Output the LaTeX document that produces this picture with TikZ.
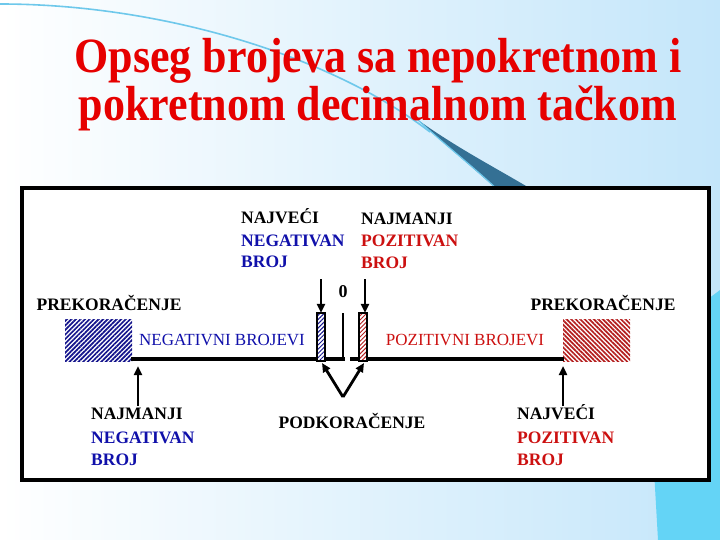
\documentclass[tikz,border=0pt]{standalone}
\usepackage{fontspec}
\setmainfont{Liberation Serif}
\usetikzlibrary{arrows.meta,patterns.meta}
\definecolor{nblue}{RGB}{16,16,170}
\definecolor{pred}{RGB}{204,16,16}
\definecolor{tred}{RGB}{230,0,0}
\definecolor{bgblue}{RGB}{196,230,250}
\definecolor{cyanband}{RGB}{100,212,246}
\definecolor{swooshc}{RGB}{110,200,235}
\definecolor{wedgec}{RGB}{52,112,148}
\definecolor{hblue}{RGB}{20,20,140}
\definecolor{hred}{RGB}{180,30,30}
\begin{document}
\begin{tikzpicture}[x=1pt,y=-1pt,
  lab/.style={inner sep=0pt, anchor=base west, font=\fontsize{17.5}{20}\selectfont\bfseries},
  labc/.style={inner sep=0pt, anchor=base, font=\fontsize{17.5}{20}\selectfont\bfseries},
  labr/.style={inner sep=0pt, anchor=base, font=\fontsize{17}{20}\selectfont},
  ttl/.style={inner sep=0pt, anchor=base, text=tred, font=\fontsize{44}{50}\selectfont\bfseries},
  arr/.style={line width=2.6pt, -{Triangle[length=9pt,width=8pt]}},
  hatchblue/.style={pattern={Lines[angle=45,distance=3.2pt,line width=1.7pt]}, pattern color=hblue},
  hatchred/.style={pattern={Lines[angle=-45,distance=3.2pt,line width=1.7pt]}, pattern color=hred},
  barblue/.style={draw=black, line width=1.6pt, pattern={Lines[angle=45,distance=3pt,line width=1pt]}, pattern color=hblue},
  barred/.style={draw=black, line width=1.6pt, pattern={Lines[angle=45,distance=3pt,line width=1pt]}, pattern color=hred},
  frame/.style={draw=black, line width=4pt, fill=white},
  axis/.style={line width=3.5pt}
]
\useasboundingbox (0,0) rectangle (720,540);
% background
\shade[left color=white, right color=bgblue] (0,0) rectangle (720,540);
\fill[cyanband] (700,305) -- (720,290) -- (720,540) -- (658,540) -- (654,470) -- cycle;
\draw[swooshc, line width=1.6pt] (0,4) .. controls (160,4) and (330,55) .. (430,132);
\fill[wedgec] (418,120) .. controls (460,150) and (500,170) .. (536,192) -- (500,192) .. controls (470,165) and (440,140) .. cycle;
\draw[swooshc, line width=1.2pt] (418,120) .. controls (445,145) and (475,168) .. (500,192);
% frame
\node[frame, minimum width=687pt, minimum height=292pt, inner sep=0pt] (box) at (365.5,334) {};
% title
\node[ttl] (t1) at (378,73) {\scalebox{1}[1.12]{Opseg brojeva sa nepokretnom i}};
\node[ttl] (t2) at (378,121) {\scalebox{1}[1.12]{pokretnom decimalnom tačkom}};
% top labels
\node[lab] (tl1) at (241,223) {NAJVEĆI};
\node[lab, text=nblue] (tl2) at (241,246) {NEGATIVAN};
\node[lab, text=nblue] (tl3) at (241,267) {BROJ};
\node[lab] (tr1) at (361,225) {NAJMANJI};
\node[lab, text=pred] (tr2) at (361,247) {POZITIVAN};
\node[lab, text=pred] (tr3) at (361,268) {BROJ};
\node[labr, font=\fontsize{18}{20}\selectfont\bfseries] (zero) at (343,297) {0};
% overflow labels
\node[labc] (pl) at (109,310) {PREKORAČENJE};
\node[labc] (pr) at (603,310) {PREKORAČENJE};
\node[labr, text=nblue] (nb) at (222,345) {NEGATIVNI BROJEVI};
\node[labr, text=pred] (pb) at (465,345) {POZITIVNI BROJEVI};
% hatched regions
\path[hatchblue] (65,319) rectangle (132,361);
\path[hatchred] (563,319) rectangle (630,361);
% axis
\coordinate (a0) at (131,359);
\coordinate (a1) at (345,359);
\coordinate (a2) at (350,359);
\coordinate (a3) at (564,359);
\draw[axis] (a0) -- (a1);
\draw[axis] (a2) -- (a3);
% bars near zero
\path[fill=white] (317,313) rectangle (325,361);
\path[fill=white] (359,313) rectangle (367,361);
\draw[barblue] (317,313) rectangle (325,361);
\draw[barred] (359,313) rectangle (367,361);
\node[inner sep=0pt, minimum width=8pt, minimum height=48pt] (bn) at (321,337) {};
\node[inner sep=0pt, minimum width=8pt, minimum height=48pt] (bp) at (363,337) {};
\coordinate (zt) at (343,313);
\coordinate (zb) at (343,359);
\draw[line width=2.6pt] (zt) -- (zb);
% arrows down
\coordinate (dl) at (321,279);
\coordinate (dr) at (365,279);
\draw[arr] (dl) -- (bn.north);
\draw[arr] (dr) -- (bp.north -| dr);
% arrows up
\coordinate (ul) at (138,406);
\coordinate (ur) at (563,406);
\draw[arr] (ul) -- (138,366);
\draw[arr] (ur) -- (563,366);
% V
\coordinate (vb) at (343,397);
\draw[arr, line width=2.8pt] (vb) -- (322,363);
\draw[arr, line width=2.8pt] (vb) -- (364,363);
\node[labc] (pod) at (352,428) {PODKORAČENJE};
% bottom labels
\node[lab] (bl1) at (91,419) {NAJMANJI};
\node[lab, text=nblue] (bl2) at (91,443) {NEGATIVAN};
\node[lab, text=nblue] (bl3) at (91,465) {BROJ};
\node[lab] (br1) at (517,419) {NAJVEĆI};
\node[lab, text=pred] (br2) at (517,443) {POZITIVAN};
\node[lab, text=pred] (br3) at (517,465) {BROJ};
\end{tikzpicture}
\end{document}
